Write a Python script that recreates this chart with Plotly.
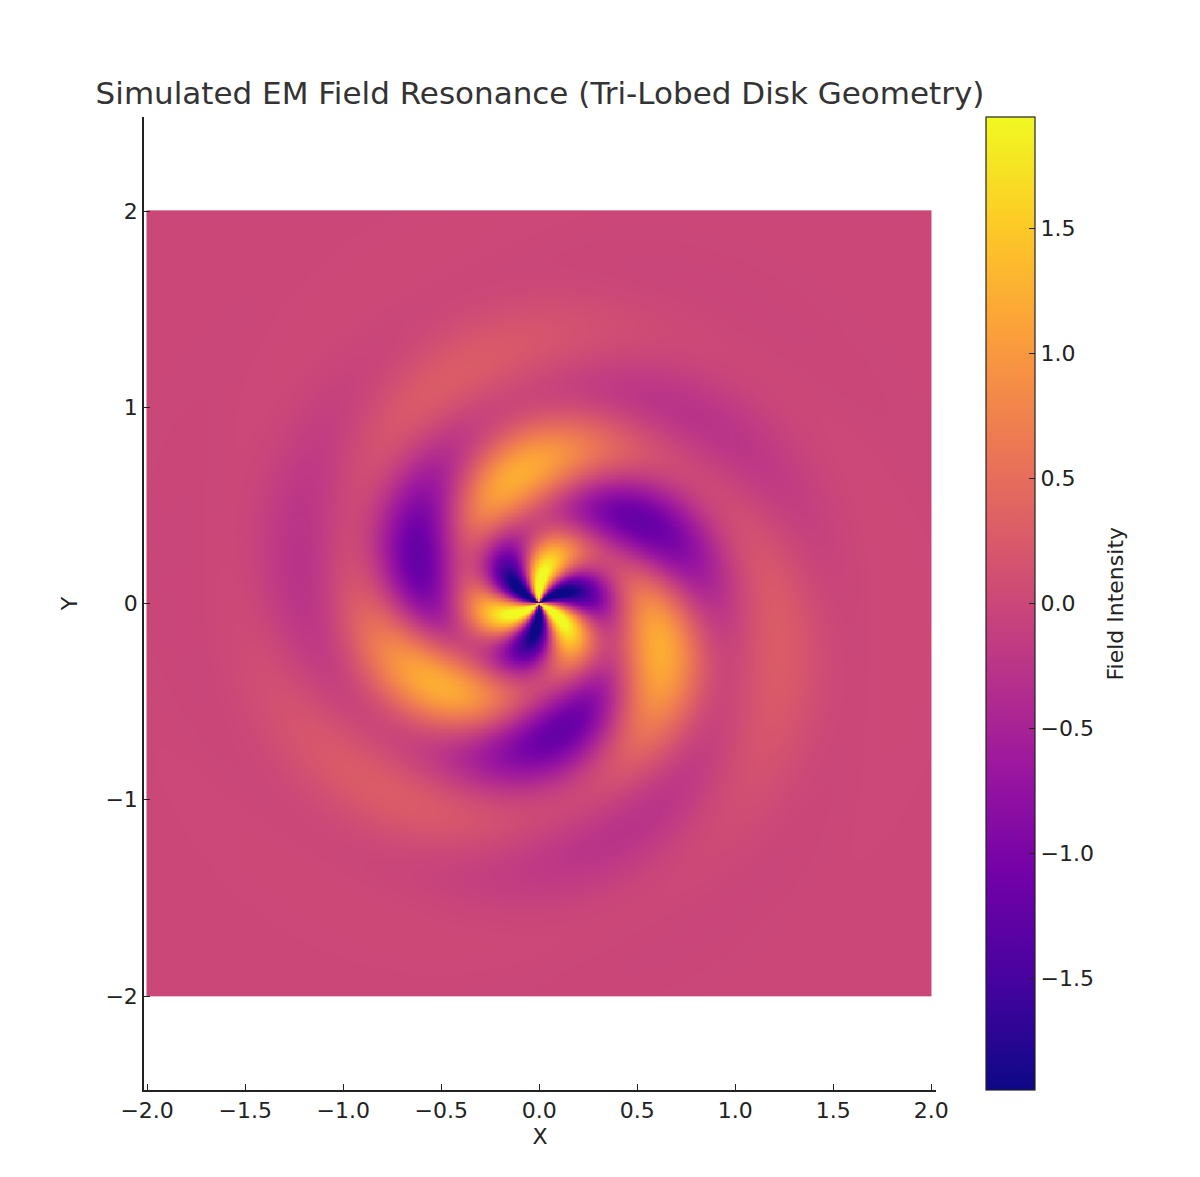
import numpy as np
import plotly.graph_objects as go

# grid of the simulated disk
x_vals = np.linspace(-2, 2, 600)
y_vals = np.linspace(-2, 2, 600)

# field model parameters
n_lobes = 3
amplitude = 2.22
twist = 4.4        # spiral wind per unit radius
angle_phase = -0.25
ring_freq = 5.0    # radial standing-wave frequency
ring_phase = 0.5
decay = 0.8        # gaussian envelope width^2

x_ticks = [-2.0, -1.5, -1.0, -0.5, 0.0, 0.5, 1.0, 1.5, 2.0]
y_ticks = [-2, -1, 0, 1, 2]
cbar_ticks = [-1.5, -1.0, -0.5, 0.0, 0.5, 1.0, 1.5]


def main():
    X, Y = np.meshgrid(x_vals, y_vals)
    R = np.sqrt(X**2 + Y**2)
    theta = np.arctan2(Y, X)
    field = (-amplitude * np.exp(-R**2 / decay) * np.cos(ring_freq * R - ring_phase)
             * np.sin(n_lobes * theta + twist * R + angle_phase))

    fig = go.Figure(go.Heatmap(
        x=x_vals, y=y_vals, z=field,
        colorscale='Plasma', zmin=-1.948, zmax=1.944,
        colorbar=dict(
            x=(986 - 144) / 792, xanchor='left', xpad=0,
            y=0.5, yanchor='middle', len=1, ypad=0,
            thickness=49, outlinewidth=1.2, outlinecolor='#222',
            ticks='inside', ticklen=6, tickcolor='#222',
            tickvals=cbar_ticks, tickformat='.1f',
            tickfont=dict(size=22, color='#222'),
        ),
    ))

    axis_style = dict(showgrid=False, zeroline=False, showline=True, linecolor='#222', linewidth=1.5,
                      ticks='inside', ticklen=6, tickcolor='#222', tickfont=dict(size=22, color='#222'),
                      mirror=False)
    fig.update_xaxes(range=[-2.016, 2.024], tickvals=x_ticks, tickformat='.1f',
                     title=dict(text='X', font=dict(size=22, color='#222'), standoff=6), **axis_style)
    fig.update_yaxes(range=[-2.479, 2.479], tickvals=y_ticks,
                     title=dict(text='Y', font=dict(size=22, color='#222'), standoff=22), **axis_style)

    fig.add_annotation(text='Field Intensity', textangle=-90, showarrow=False,
                       xref='paper', yref='paper', x=(1115 - 144) / 792, y=0.5,
                       xanchor='center', yanchor='middle',
                       font=dict(size=22, color='#222'))

    fig.update_layout(
        width=1192, height=1169,
        margin=dict(l=136, r=264, t=109, b=87),
        paper_bgcolor='white', plot_bgcolor='white',
        font=dict(family='DejaVu Sans', color='#222'),
        title=dict(text='Simulated EM Field Resonance (Tri-Lobed Disk Geometry)',
                   x=0.5, xref='paper', xanchor='center',
                   y=1 - 85 / 1169, yanchor='middle',
                   font=dict(size=31, color='#333')),
    )

    fig.write_html('out.html')


if __name__ == '__main__':
    main()
